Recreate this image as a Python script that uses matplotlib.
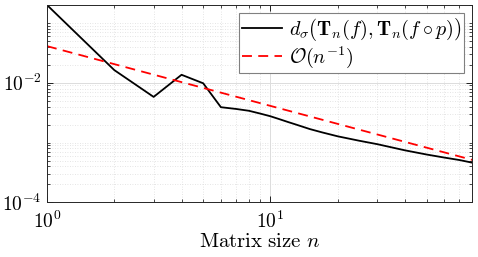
import numpy as np
import matplotlib
matplotlib.use("Agg")
import matplotlib.pyplot as plt
from matplotlib.ticker import LogLocator, NullFormatter

plt.rcParams['mathtext.fontset'] = 'cm'
plt.rcParams['font.family'] = 'DejaVu Serif'

n_vals = [1, 2, 3, 4, 5, 6, 7, 8, 9, 10, 11, 12, 13, 15, 17, 20, 25, 30, 40, 50, 60, 70, 80]
d_vals = [0.2, 0.0163, 0.0058, 0.0136, 0.0098, 0.0039, 0.00365, 0.0034, 0.00305,
          0.00275, 0.00245, 0.0022, 0.002, 0.00168, 0.00148, 0.00127, 0.00107,
          0.00094, 0.00074, 0.00063, 0.00056, 0.00051, 0.00046]
ref_n = [1, 80]
ref_c = 0.041
ref_vals = [ref_c / n for n in ref_n]

fig = plt.figure(figsize=(4.78, 2.57), dpi=100)
ax = fig.add_axes([47/478, 1 - 202.3/257, (472.3-47)/478, (202.3-5)/257])

ax.plot(n_vals, d_vals, color='black', lw=1.3,
        label=r'$d_\sigma\left(\mathbf{T}_n(f),\mathbf{T}_n(f\circ p)\right)$')
ax.plot(ref_n, ref_vals, color='red', lw=1.3, ls=(0, (5.5, 3.5)),
        label=r'$\mathcal{O}(n^{-1})$')

ax.set_xscale('log')
ax.set_yscale('log')
ax.set_xlim(1, 80)
ax.set_ylim(1e-4, 0.2)
ax.set_yticks([1e-4, 1e-2])
ax.set_yticklabels([r'$10^{-4}$', r'$10^{-2}$'])
ax.set_xticks([1, 10])
ax.set_xticklabels([r'$10^{0}$', r'$10^{1}$'])
ax.xaxis.set_minor_locator(LogLocator(base=10, subs=np.arange(2, 10), numticks=20))
ax.yaxis.set_minor_locator(LogLocator(base=10, subs=np.arange(1, 10), numticks=20))
ax.xaxis.set_minor_formatter(NullFormatter())
ax.yaxis.set_minor_formatter(NullFormatter())

ax.tick_params(which='both', direction='in', top=True, right=True, labelsize=14)
ax.tick_params(axis='x', which='major', pad=6)
ax.tick_params(axis='y', which='major', pad=4)
ax.tick_params(which='major', length=4, width=0.6)
ax.tick_params(which='minor', length=2, width=0.5)
ax.grid(True, which='major', color='#dcdcdc', lw=0.7, ls='-')
ax.grid(True, which='minor', color='#dcdcdc', lw=0.6, ls=(0, (1, 2)))
ax.set_axisbelow(True)
for s in ax.spines.values():
    s.set_linewidth(0.7)
    s.set_color('#262626')

ax.set_xlabel(r'$\mathrm{Matrix\ size}\ n$', fontsize=15, labelpad=0)

leg = ax.legend(loc='upper right', fontsize=14.5, frameon=True, fancybox=False,
                edgecolor='#808080', framealpha=1, borderpad=0.15, labelspacing=0.05,
                handlelength=2.0, handletextpad=0.3, borderaxespad=0.4)
leg.get_frame().set_linewidth(0.8)

fig.savefig('out.png', dpi=100)
